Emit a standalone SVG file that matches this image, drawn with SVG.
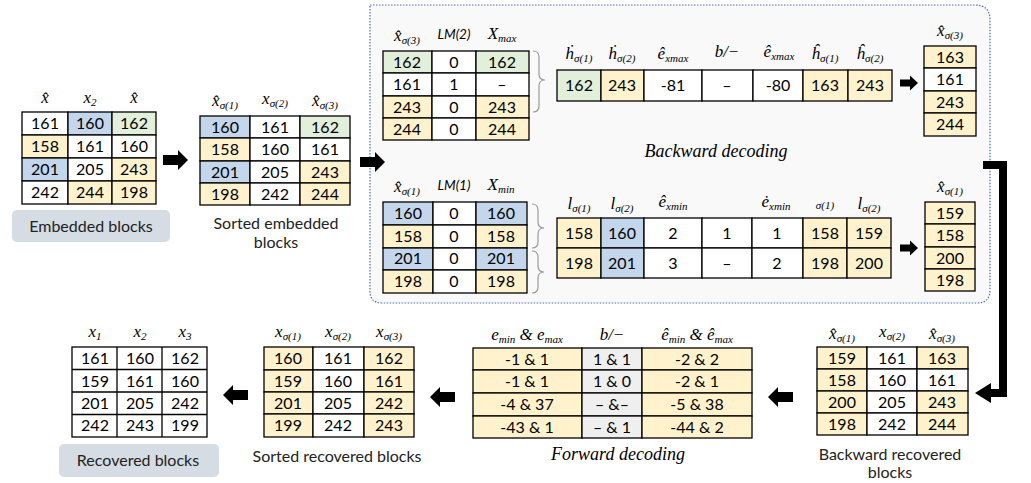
<svg xmlns="http://www.w3.org/2000/svg" width="1031" height="483" viewBox="0 0 1031 483">
<style>
  .w{fill:#ffffff;stroke:#000;stroke-width:1.3}
  .y{fill:#fff2cc;stroke:#000;stroke-width:1.3}
  .b{fill:#c3d6ec;stroke:#000;stroke-width:1.3}
  .g{fill:#e2efda;stroke:#000;stroke-width:1.3}
  .k{fill:#efefef;stroke:#000;stroke-width:1.3}
  text{font-family:Lato,"Open Sans","Liberation Sans",sans-serif;fill:#000}
  .n{font-size:16px;text-anchor:middle}
  text.m{font-family:"Liberation Serif","DejaVu Serif",serif;font-style:italic;font-size:17px;text-anchor:middle}
  .s{font-size:11px}
  .lm{font-size:13.5px;font-style:italic;text-anchor:middle}
  .lbl{font-size:16px;text-anchor:middle;fill:#222}
  text.cap{font-family:"Liberation Serif","DejaVu Serif",serif;font-style:italic;font-size:18px;text-anchor:middle}
  .brace{fill:none;stroke:#9a9a9a;stroke-width:1.2}
</style>
<defs>
  <path id="bigR" d="M0,-5 H15 V-10 L25,0 L15,10 V5 H0 Z" fill="#000"/>
  <path id="smallR" d="M0,-3.5 H10 V-7.5 L18,0 L10,7.5 V3.5 H0 Z" fill="#000"/>
</defs>

<!-- decoding panel -->
<g id="panel">
  <path d="M370,5 H975 Q990,5 990,20 V290 Q990,303 977,303 H382 Q370,303 370,291 Z" fill="#f9f9f9" stroke="#4a6fb5" stroke-width="1.2" stroke-dasharray="1.5,1.5"/>
</g>

<!-- embedded blocks -->
<g id="embedded">
  <text class="m" x="45" y="103">x̂</text>
  <text class="m" x="90" y="103">x<tspan class="s" dy="3">2</tspan></text>
  <text class="m" x="134" y="103">x̂</text>
  <rect class="w" x="22" y="112" width="46" height="23"/><rect class="b" x="68" y="112" width="44" height="23"/><rect class="g" x="112" y="112" width="44" height="23"/>
  <rect class="y" x="22" y="135" width="46" height="23"/><rect class="w" x="68" y="135" width="44" height="23"/><rect class="w" x="112" y="135" width="44" height="23"/>
  <rect class="b" x="22" y="158" width="46" height="23"/><rect class="w" x="68" y="158" width="44" height="23"/><rect class="y" x="112" y="158" width="44" height="23"/>
  <rect class="w" x="22" y="181" width="46" height="23"/><rect class="y" x="68" y="181" width="44" height="23"/><rect class="y" x="112" y="181" width="44" height="23"/>
  <text class="n" x="45" y="129">161</text><text class="n" x="90" y="129">160</text><text class="n" x="134" y="129">162</text>
  <text class="n" x="45" y="152">158</text><text class="n" x="90" y="152">161</text><text class="n" x="134" y="152">160</text>
  <text class="n" x="45" y="175">201</text><text class="n" x="90" y="175">205</text><text class="n" x="134" y="175">243</text>
  <text class="n" x="45" y="198">242</text><text class="n" x="90" y="198">244</text><text class="n" x="134" y="198">198</text>
  <rect x="12" y="210" width="158" height="32" rx="5" fill="#d6dce4"/>
  <text class="lbl" x="91" y="232">Embedded blocks</text>
</g>

<!-- sorted embedded blocks -->
<g id="sorted-embedded">
  <text class="m" x="225" y="106">x̂<tspan class="s" dy="3">σ(1)</tspan></text>
  <text class="m" x="275" y="104">x<tspan class="s" dy="3">σ(2)</tspan></text>
  <text class="m" x="325" y="106">x̂<tspan class="s" dy="3">σ(3)</tspan></text>
  <rect class="b" x="200" y="116" width="50" height="22"/><rect class="w" x="250" y="116" width="50" height="22"/><rect class="g" x="300" y="116" width="50" height="22"/>
  <rect class="y" x="200" y="138" width="50" height="23"/><rect class="w" x="250" y="138" width="50" height="23"/><rect class="w" x="300" y="138" width="50" height="23"/>
  <rect class="b" x="200" y="161" width="50" height="22"/><rect class="w" x="250" y="161" width="50" height="22"/><rect class="y" x="300" y="161" width="50" height="22"/>
  <rect class="y" x="200" y="183" width="50" height="22"/><rect class="w" x="250" y="183" width="50" height="22"/><rect class="y" x="300" y="183" width="50" height="22"/>
  <text class="n" x="225" y="133">160</text><text class="n" x="275" y="133">161</text><text class="n" x="325" y="133">162</text>
  <text class="n" x="225" y="155">158</text><text class="n" x="275" y="155">160</text><text class="n" x="325" y="155">161</text>
  <text class="n" x="225" y="178">201</text><text class="n" x="275" y="178">205</text><text class="n" x="325" y="178">243</text>
  <text class="n" x="225" y="200">198</text><text class="n" x="275" y="200">242</text><text class="n" x="325" y="200">244</text>
  <text class="lbl" x="276" y="229">Sorted embedded</text>
  <text class="lbl" x="276" y="248">blocks</text>
</g>

<!-- backward decoding: max side -->
<g id="max-lm">
  <text class="m" x="407" y="41">x̂<tspan class="s" dy="3">σ(3)</tspan></text>
  <text class="lm" x="454" y="39">LM(2)</text>
  <text class="m" x="502" y="39">X<tspan class="s" dy="3">max</tspan></text>
  <rect class="g" x="383" y="51" width="49" height="22"/><rect class="w" x="432" y="51" width="44" height="22"/><rect class="g" x="476" y="51" width="53" height="22"/>
  <rect class="w" x="383" y="73" width="49" height="23"/><rect class="w" x="432" y="73" width="44" height="23"/><rect class="w" x="476" y="73" width="53" height="23"/>
  <rect class="y" x="383" y="96" width="49" height="22"/><rect class="w" x="432" y="96" width="44" height="22"/><rect class="y" x="476" y="96" width="53" height="22"/>
  <rect class="y" x="383" y="118" width="49" height="22"/><rect class="w" x="432" y="118" width="44" height="22"/><rect class="y" x="476" y="118" width="53" height="22"/>
  <text class="n" x="407" y="68">162</text><text class="n" x="454" y="68">0</text><text class="n" x="502" y="68">162</text>
  <text class="n" x="407" y="90">161</text><text class="n" x="454" y="90">1</text><text class="n" x="502" y="90">–</text>
  <text class="n" x="407" y="113">243</text><text class="n" x="454" y="113">0</text><text class="n" x="502" y="113">243</text>
  <text class="n" x="407" y="135">244</text><text class="n" x="454" y="135">0</text><text class="n" x="502" y="135">244</text>
  <path class="brace" d="M533,51 Q539,51 539,57 V74 Q539,80 545,80 Q539,80 539,86 V106 Q539,112 533,112"/>
</g>

<g id="max-calc">
  <text class="m" x="579" y="59">ḣ<tspan class="s" dy="3">σ(1)</tspan></text>
  <text class="m" x="622" y="59">ḣ<tspan class="s" dy="3">σ(2)</tspan></text>
  <text class="m" x="673" y="59">ê<tspan class="s" dy="3">xmax</tspan></text>
  <text class="m" x="727" y="57">b/−</text>
  <text class="m" x="779" y="57">ê<tspan class="s" dy="3">xmax</tspan></text>
  <text class="m" x="825" y="59">ĥ<tspan class="s" dy="3">σ(1)</tspan></text>
  <text class="m" x="870" y="59">ĥ<tspan class="s" dy="3">σ(2)</tspan></text>
  <rect class="g" x="557" y="70" width="44" height="31"/><rect class="y" x="601" y="70" width="43" height="31"/><rect class="w" x="644" y="70" width="58" height="31"/><rect class="w" x="702" y="70" width="51" height="31"/>
  <rect class="w" x="753" y="70" width="50" height="31"/><rect class="y" x="803" y="70" width="45" height="31"/><rect class="y" x="848" y="70" width="44" height="31"/>
  <text class="n" x="579" y="91">162</text><text class="n" x="622" y="91">243</text><text class="n" x="673" y="91">-81</text><text class="n" x="727" y="91">–</text>
  <text class="n" x="778" y="91">-80</text><text class="n" x="825" y="91">163</text><text class="n" x="870" y="91">243</text>
</g>

<g id="max-result">
  <text class="m" x="950" y="36">x̂<tspan class="s" dy="3">σ(3)</tspan></text>
  <rect class="y" x="924" y="46" width="52" height="22"/>
  <rect class="w" x="924" y="68" width="52" height="23"/>
  <rect class="y" x="924" y="91" width="52" height="22"/>
  <rect class="y" x="924" y="113" width="52" height="23"/>
  <text class="n" x="950" y="63">163</text><text class="n" x="950" y="85">161</text><text class="n" x="950" y="108">243</text><text class="n" x="950" y="130">244</text>
</g>

<text class="cap" x="716" y="157">Backward decoding</text>

<!-- backward decoding: min side -->
<g id="min-lm">
  <text class="m" x="407" y="192">x̂<tspan class="s" dy="3">σ(1)</tspan></text>
  <text class="lm" x="454" y="190">LM(1)</text>
  <text class="m" x="501" y="190">X<tspan class="s" dy="3">min</tspan></text>
  <rect class="b" x="383" y="202" width="50" height="23"/><rect class="w" x="433" y="202" width="43" height="23"/><rect class="b" x="476" y="202" width="51" height="23"/>
  <rect class="y" x="383" y="225" width="50" height="23"/><rect class="w" x="433" y="225" width="43" height="23"/><rect class="y" x="476" y="225" width="51" height="23"/>
  <rect class="b" x="383" y="248" width="50" height="22"/><rect class="w" x="433" y="248" width="43" height="22"/><rect class="b" x="476" y="248" width="51" height="22"/>
  <rect class="y" x="383" y="270" width="50" height="23"/><rect class="w" x="433" y="270" width="43" height="23"/><rect class="y" x="476" y="270" width="51" height="23"/>
  <text class="n" x="408" y="219">160</text><text class="n" x="454" y="219">0</text><text class="n" x="501" y="219">160</text>
  <text class="n" x="408" y="242">158</text><text class="n" x="454" y="242">0</text><text class="n" x="501" y="242">158</text>
  <text class="n" x="408" y="264">201</text><text class="n" x="454" y="264">0</text><text class="n" x="501" y="264">201</text>
  <text class="n" x="408" y="287">198</text><text class="n" x="454" y="287">0</text><text class="n" x="501" y="287">198</text>
  <path class="brace" d="M532,204 Q538,204 538,210 V222 Q538,228 544,228 Q538,228 538,234 V242 Q538,248 532,248"/>
  <path class="brace" d="M532,251 Q538,251 538,257 V266 Q538,272 544,272 Q538,272 538,278 V287 Q538,293 532,293"/>
</g>

<g id="min-calc">
  <text class="m" x="579" y="209">l<tspan class="s" dy="3">σ(1)</tspan></text>
  <text class="m" x="622" y="209">l<tspan class="s" dy="3">σ(2)</tspan></text>
  <text class="m" x="673" y="207">ê<tspan class="s" dy="3">xmin</tspan></text>
  <text class="m" x="776" y="207">ė<tspan class="s" dy="3">xmin</tspan></text>
  <text class="m" x="825" y="209" style="font-size:11px">σ(1)</text>
  <text class="m" x="869" y="209">l<tspan class="s" dy="3">σ(2)</tspan></text>
  <rect class="y" x="557" y="218" width="44" height="30"/><rect class="b" x="601" y="218" width="43" height="30"/><rect class="w" x="644" y="218" width="58" height="30"/><rect class="w" x="702" y="218" width="50" height="30"/>
  <rect class="w" x="752" y="218" width="51" height="30"/><rect class="y" x="803" y="218" width="44" height="30"/><rect class="y" x="847" y="218" width="44" height="30"/>
  <rect class="y" x="557" y="248" width="44" height="30"/><rect class="b" x="601" y="248" width="43" height="30"/><rect class="w" x="644" y="248" width="58" height="30"/><rect class="w" x="702" y="248" width="50" height="30"/>
  <rect class="w" x="752" y="248" width="51" height="30"/><rect class="y" x="803" y="248" width="44" height="30"/><rect class="y" x="847" y="248" width="44" height="30"/>
  <text class="n" x="579" y="239">158</text><text class="n" x="622" y="239">160</text><text class="n" x="673" y="239">2</text><text class="n" x="727" y="239">1</text>
  <text class="n" x="777" y="239">1</text><text class="n" x="825" y="239">158</text><text class="n" x="869" y="239">159</text>
  <text class="n" x="579" y="269">198</text><text class="n" x="622" y="269">201</text><text class="n" x="673" y="269">3</text><text class="n" x="727" y="269">–</text>
  <text class="n" x="777" y="269">2</text><text class="n" x="825" y="269">198</text><text class="n" x="869" y="269">200</text>
</g>

<g id="min-result">
  <text class="m" x="950" y="192">x̂<tspan class="s" dy="3">σ(1)</tspan></text>
  <rect class="y" x="925" y="202" width="50" height="22"/>
  <rect class="y" x="925" y="224" width="50" height="23"/>
  <rect class="y" x="925" y="247" width="50" height="22"/>
  <rect class="y" x="925" y="269" width="50" height="22"/>
  <text class="n" x="950" y="219">159</text><text class="n" x="950" y="241">158</text><text class="n" x="950" y="264">200</text><text class="n" x="950" y="286">198</text>
</g>

<!-- backward recovered blocks -->
<g id="backward-recovered">
  <text class="m" x="842" y="339">x̂<tspan class="s" dy="3">σ(1)</tspan></text>
  <text class="m" x="892" y="337">x<tspan class="s" dy="3">σ(2)</tspan></text>
  <text class="m" x="942" y="339">x̂<tspan class="s" dy="3">σ(3)</tspan></text>
  <rect class="y" x="817" y="347" width="50" height="22"/><rect class="w" x="867" y="347" width="50" height="22"/><rect class="y" x="917" y="347" width="51" height="22"/>
  <rect class="y" x="817" y="369" width="50" height="22"/><rect class="w" x="867" y="369" width="50" height="22"/><rect class="w" x="917" y="369" width="51" height="22"/>
  <rect class="y" x="817" y="391" width="50" height="22"/><rect class="w" x="867" y="391" width="50" height="22"/><rect class="y" x="917" y="391" width="51" height="22"/>
  <rect class="y" x="817" y="413" width="50" height="22"/><rect class="w" x="867" y="413" width="50" height="22"/><rect class="y" x="917" y="413" width="51" height="22"/>
  <text class="n" x="842" y="364">159</text><text class="n" x="892" y="364">161</text><text class="n" x="942" y="364">163</text>
  <text class="n" x="842" y="386">158</text><text class="n" x="892" y="386">160</text><text class="n" x="942" y="386">161</text>
  <text class="n" x="842" y="408">200</text><text class="n" x="892" y="408">205</text><text class="n" x="942" y="408">243</text>
  <text class="n" x="842" y="430">198</text><text class="n" x="892" y="430">242</text><text class="n" x="942" y="430">244</text>
  <text class="lbl" x="890" y="460">Backward recovered</text>
  <text class="lbl" x="890" y="478">blocks</text>
</g>

<!-- forward decoding -->
<g id="forward">
  <text class="m" x="527" y="340">e<tspan class="s" dy="3">min</tspan><tspan dy="-3"> &amp; e</tspan><tspan class="s" dy="3">max</tspan></text>
  <text class="m" x="612" y="340">b/−</text>
  <text class="m" x="697" y="340">ê<tspan class="s" dy="3">min</tspan><tspan dy="-3"> &amp; ê</tspan><tspan class="s" dy="3">max</tspan></text>
  <rect class="y" x="473" y="348" width="109" height="22"/><rect class="k" x="582" y="348" width="60" height="22"/><rect class="y" x="642" y="348" width="110" height="22"/>
  <rect class="y" x="473" y="370" width="109" height="23"/><rect class="k" x="582" y="370" width="60" height="23"/><rect class="y" x="642" y="370" width="110" height="23"/>
  <rect class="y" x="473" y="393" width="109" height="23"/><rect class="k" x="582" y="393" width="60" height="23"/><rect class="y" x="642" y="393" width="110" height="23"/>
  <rect class="y" x="473" y="416" width="109" height="22"/><rect class="k" x="582" y="416" width="60" height="22"/><rect class="y" x="642" y="416" width="110" height="22"/>
  <text class="n" x="527" y="365">-1 &amp; 1</text><text class="n" x="612" y="365">1 &amp; 1</text><text class="n" x="697" y="365">-2 &amp; 2</text>
  <text class="n" x="527" y="387">-1 &amp; 1</text><text class="n" x="612" y="387">1 &amp; 0</text><text class="n" x="697" y="387">-2 &amp; 1</text>
  <text class="n" x="527" y="410">-4 &amp; 37</text><text class="n" x="612" y="410">– &amp;–</text><text class="n" x="697" y="410">-5 &amp; 38</text>
  <text class="n" x="527" y="433">-43 &amp; 1</text><text class="n" x="612" y="433">– &amp; 1</text><text class="n" x="697" y="433">-44 &amp; 2</text>
  <text class="cap" x="618" y="460">Forward decoding</text>
</g>

<!-- sorted recovered blocks -->
<g id="sorted-recovered">
  <text class="m" x="288" y="337">x<tspan class="s" dy="3">σ(1)</tspan></text>
  <text class="m" x="338" y="337">x<tspan class="s" dy="3">σ(2)</tspan></text>
  <text class="m" x="389" y="337">x<tspan class="s" dy="3">σ(3)</tspan></text>
  <rect class="y" x="264" y="347" width="49" height="23"/><rect class="w" x="313" y="347" width="51" height="23"/><rect class="y" x="364" y="347" width="50" height="23"/>
  <rect class="y" x="264" y="370" width="49" height="22"/><rect class="w" x="313" y="370" width="51" height="22"/><rect class="y" x="364" y="370" width="50" height="22"/>
  <rect class="y" x="264" y="392" width="49" height="22"/><rect class="w" x="313" y="392" width="51" height="22"/><rect class="y" x="364" y="392" width="50" height="22"/>
  <rect class="y" x="264" y="414" width="49" height="23"/><rect class="w" x="313" y="414" width="51" height="23"/><rect class="y" x="364" y="414" width="50" height="23"/>
  <text class="n" x="288" y="364">160</text><text class="n" x="338" y="364">161</text><text class="n" x="389" y="364">162</text>
  <text class="n" x="288" y="387">159</text><text class="n" x="338" y="387">160</text><text class="n" x="389" y="387">161</text>
  <text class="n" x="288" y="409">201</text><text class="n" x="338" y="409">205</text><text class="n" x="389" y="409">242</text>
  <text class="n" x="288" y="431">199</text><text class="n" x="338" y="431">242</text><text class="n" x="389" y="431">243</text>
  <text class="lbl" x="337" y="462">Sorted recovered blocks</text>
</g>

<!-- recovered blocks -->
<g id="recovered">
  <text class="m" x="95" y="337">x<tspan class="s" dy="3">1</tspan></text>
  <text class="m" x="140" y="337">x<tspan class="s" dy="3">2</tspan></text>
  <text class="m" x="185" y="337">x<tspan class="s" dy="3">3</tspan></text>
  <rect class="w" x="72" y="347" width="135" height="90"/>
  <path d="M117,347 V437 M162,347 V437 M72,369.5 H207 M72,392 H207 M72,414.5 H207" stroke="#000" stroke-width="1.3"/>
  <text class="n" x="95" y="364">161</text><text class="n" x="140" y="364">160</text><text class="n" x="185" y="364">162</text>
  <text class="n" x="95" y="387">159</text><text class="n" x="140" y="387">161</text><text class="n" x="185" y="387">160</text>
  <text class="n" x="95" y="409">201</text><text class="n" x="140" y="409">205</text><text class="n" x="185" y="409">242</text>
  <text class="n" x="95" y="431">242</text><text class="n" x="140" y="431">243</text><text class="n" x="185" y="431">199</text>
  <rect x="59" y="444" width="160" height="33" rx="5" fill="#d6dce4"/>
  <text class="lbl" x="138" y="466">Recovered blocks</text>
</g>

<!-- connectors -->
<g id="connectors">
  <use href="#bigR" transform="translate(163,160)"/>
  <use href="#bigR" transform="translate(360,162)"/>
  <use href="#smallR" transform="translate(900,83)"/>
  <use href="#smallR" transform="translate(900,248)"/>
  <path d="M983,165 H1003 V393 H990" fill="none" stroke="#000" stroke-width="8"/>
  <path d="M975,393 L991,383 V403 Z" fill="#000"/>
  <use href="#bigR" transform="translate(793,397) scale(-1,1)"/>
  <use href="#bigR" transform="translate(455,397) scale(-1,1)"/>
  <use href="#bigR" transform="translate(248,395) scale(-1,1)"/>
</g>
</svg>
